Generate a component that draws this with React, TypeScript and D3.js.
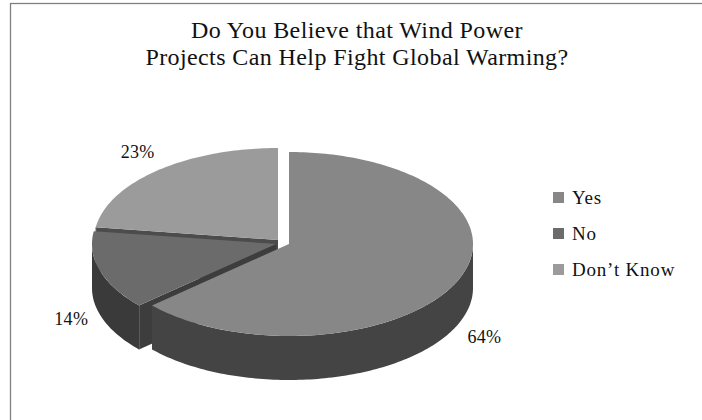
import React from "react";
import * as d3 from "d3";

// Survey answers (percent) and their legend names
const categories = ["Yes", "No", "Don\u2019t Know"];
const values = [64, 14, 23];
const titleLines = [
  "Do You Believe that Wind Power",
  "Projects Can Help Fight Global Warming?",
];

// Styling for each slice: top face, curved/radial side faces
const topColors = ["#878787", "#6b6b6b", "#9b9b9b"];
const sideColors = ["#444444", "#3a3a3a", "#505050"];
const radialColors = ["#3c3c3c", "#3d3d3d", "#4c4c4c"];
// Exploded slice shifts (px) from the pie centre
const explode: [number, number][] = [
  [13, 0],
  [0, 0],
  [2, -4],
];

const W = 702;
const H = 420;
const FONT = "'Palatino Linotype', 'Book Antiqua', Palatino, 'Liberation Serif', serif";

const CX = 276;
const CY = 244;
const RX = 184;
const RY = 92;
const DEPTH = 44;

type Pt = [number, number];

function pt(c: Pt, a: number, dy = 0): Pt {
  return [c[0] + RX * Math.sin(a), c[1] - RY * Math.cos(a) + dy];
}

function arcPts(c: Pt, a0: number, a1: number, dy = 0): Pt[] {
  const n = Math.max(2, Math.ceil(Math.abs(a1 - a0) / 0.02));
  return d3.range(n + 1).map((i) => pt(c, a0 + ((a1 - a0) * i) / n, dy));
}

const line = d3.line<Pt>();

export default function App() {
  const arcs = d3
    .pie<number>()
    .sort(null)
    .value((d) => d)(values);

  const slices = arcs.map((a, i) => {
    const c: Pt = [CX + explode[i][0], CY + explode[i][1]];
    const mid = (a.startAngle + a.endAngle) / 2;
    return { a, i, c, mid };
  });

  // back-to-front painting order
  const order = [...slices].sort((p, q) => -Math.cos(p.mid) - -Math.cos(q.mid));

  const faces: React.ReactNode[] = [];
  order.forEach(({ a, i, c }) => {
    const s = a.startAngle;
    const e = a.endAngle;
    // radial faces facing the viewer
    const radial = (ang: number, normal: number, key: string) => {
      if (Math.cos(normal) >= -1e-6) return;
      const p = pt(c, ang);
      const poly: Pt[] = [c, p, [p[0], p[1] + DEPTH], [c[0], c[1] + DEPTH]];
      faces.push(
        <path key={key} d={line(poly) + "Z"} fill={radialColors[i]} />
      );
      faces.push(
        <line
          key={key + "-edge"}
          x1={p[0]}
          y1={p[1]}
          x2={p[0]}
          y2={p[1] + DEPTH}
          stroke="#8c8c8c"
          strokeWidth={0.8}
        />
      );
    };
    radial(s, s - Math.PI / 2, `r0-${i}`);
    radial(e, e + Math.PI / 2, `r1-${i}`);

    // curved outer side on the front half
    const f0 = Math.max(s, Math.PI / 2);
    const f1 = Math.min(e, (3 * Math.PI) / 2);
    if (f1 > f0) {
      const poly = [...arcPts(c, f0, f1), ...arcPts(c, f1, f0, DEPTH)];
      faces.push(
        <path key={`o-${i}`} d={line(poly) + "Z"} fill={sideColors[i]} />
      );
    }

    // top face
    const top = [c, ...arcPts(c, s, e)];
    faces.push(<path key={`t-${i}`} d={line(top) + "Z"} fill={topColors[i]} />);
  });

  // data labels placed on an outer ellipse around the pie
  const LRX = RX + 30;
  const LRY = 156;
  const LDY = 29;

  return (
    <svg
      width={W}
      height={H}
      style={{ position: "absolute", left: 0, top: 0, background: "#fff" }}
      fontFamily={FONT}
    >
      <rect x={0} y={0} width={W} height={H} fill="#fff" />
      <rect
        x={10.5}
        y={3.5}
        width={W + 20}
        height={H + 20}
        fill="none"
        stroke="#808080"
        strokeWidth={1.3}
      />
      {titleLines.map((t, k) => (
        <text
          key={k}
          x={357}
          y={38 + k * 27}
          textAnchor="middle"
          fontSize={24}
          letterSpacing={0.4}
          fill="#111"
        >
          {t}
        </text>
      ))}
      {faces}
      {slices.map(({ a, i, c, mid }) => (
        <text
          key={`l-${i}`}
          x={c[0] + LRX * Math.sin(mid)}
          y={c[1] - LRY * Math.cos(mid) + LDY}
          dy="0.35em"
          textAnchor="middle"
          fontSize={18}
          letterSpacing={0.3}
          fill="#111"
        >
          {`${a.data}%`}
        </text>
      ))}
      {categories.map((name, i) => (
        <g key={name} transform={`translate(553, ${192 + i * 36})`}>
          <rect x={0} y={0} width={11} height={11} fill={topColors[i]} />
          <text x={19} y={11.5} fontSize={19} letterSpacing={0.8} fill="#111">
            {name}
          </text>
        </g>
      ))}
    </svg>
  );
}
